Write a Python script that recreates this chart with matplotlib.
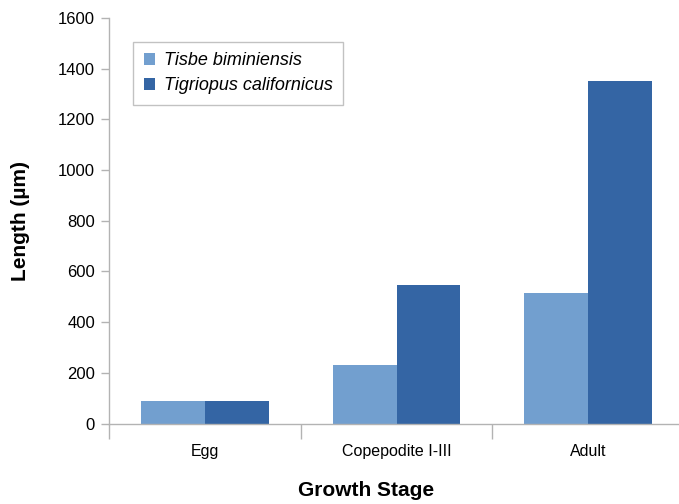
import matplotlib
matplotlib.use("Agg")
import matplotlib.pyplot as plt
import numpy as np

plt.rcParams['font.family'] = ['Liberation Sans', 'DejaVu Sans']

categories = ["Egg", "Copepodite I-III", "Adult"]
tisbe = [90, 229, 516]
tigriopus = [90, 548, 1352]
series_names = ["Tisbe biminiensis", "Tigriopus californicus"]
colors = ["#729FCF", "#3465A4"]

fig = plt.figure(figsize=(6.79, 5.04), dpi=100)
ax = fig.add_axes([109/679, 80.5/504, (684-109)/679, (423.5-18)/504])

x = np.arange(len(categories))
w = 1/3
ax.bar(x - w/2, tisbe, width=w, color=colors[0], label=series_names[0])
ax.bar(x + w/2, tigriopus, width=w, color=colors[1], label=series_names[1])

ax.set_xlim(-0.5, 2.5)
ax.set_ylim(0, 1600)
ax.set_yticks(np.arange(0, 1601, 200))
ax.set_xticks([-0.5, 0.5, 1.5, 2.5])
ax.set_xticklabels([])
ax.set_xticks(x, minor=True)
ax.set_xticklabels(categories, minor=True)
ax.tick_params(axis='x', which='minor', length=0, pad=15, labelsize=11.5)
ax.tick_params(axis='x', which='major', length=11, color='#b3b3b3', width=1)
ax.tick_params(axis='y', length=6, color='#b3b3b3', width=1, labelsize=12, pad=4)

for s in ['top', 'right']:
    ax.spines[s].set_visible(False)
for s in ['left', 'bottom']:
    ax.spines[s].set_color('#b3b3b3')
    ax.spines[s].set_linewidth(1)

ax.set_ylabel("Length (µm)", fontsize=15, fontweight='bold', labelpad=20)
ax.set_xlabel("Growth Stage", fontsize=15, fontweight='bold')
ax.xaxis.set_label_coords((366-109)/575, -(491-423.5)/405.5)
ax.xaxis.label.set_va('center')

leg = ax.legend(loc='upper left', bbox_to_anchor=((133-109)/575, (424-42)/405.5),
                frameon=True, fancybox=False, edgecolor='#b3b3b3',
                prop={'style': 'italic', 'size': 13},
                handlelength=0.6, handleheight=0.6, handletextpad=0.5,
                borderpad=0.6, labelspacing=0.45, borderaxespad=0)
leg.get_frame().set_linewidth(1)

fig.savefig("out.png", dpi=100)
